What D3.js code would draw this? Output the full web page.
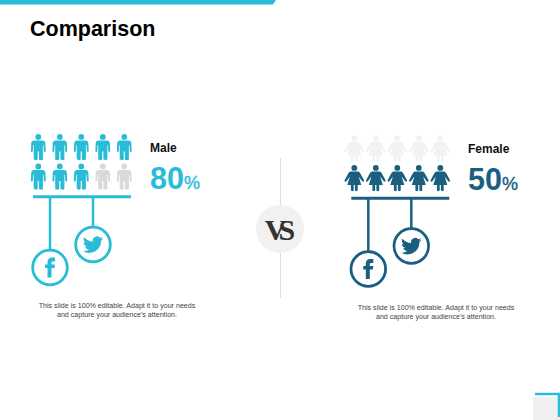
<!DOCTYPE html>
<html>
<head>
<meta charset="utf-8">
<script src="https://cdn.jsdelivr.net/npm/d3@7"></script>
<style>
  html, body { margin: 0; padding: 0; background: #fff; }
  svg { display: block; }
  text { font-family: "Liberation Sans", Arial, sans-serif; }
</style>
</head>
<body>
<div id="chart"></div>
<script>
// chart values
var groups = ["Male", "Female"];
var percents = [80, 50];
var filledIcons = [8, 5];
var columns = [0, 1, 2, 3, 4];
var rows = [0, 1];
var captionLines = ["This slide is 100% editable. Adapt it to your needs", "and capture your audience's attention."];

var width = 560, height = 420;
var blue = "#29bcd9", navy = "#1a5f80";

var svg = d3.select("#chart").append("svg").attr("width", width).attr("height", height);

// glyphs, drawn in a 24 unit box
var head = "M12 0a2.9 2.9 0 1 1 0 5.8a2.9 2.9 0 0 1 0-5.8z";
var manPath = head + "M8 6.5H16C18 6.500 19 7.700 19.100 9.700L19.400 17C19.400 18.400 17.600 18.400 17.500 17L17.200 11.300H16.600V25C16.600 26.600 12.600 26.600 12.600 25V17.500H11.400V25C11.400 26.600 7.400 26.600 7.400 25V11.300H6.800L6.500 17C6.400 18.400 4.600 18.400 4.600 17L4.900 9.700C5 7.700 6 6.500 8 6.500Z";
var womanPath = head + "M8.800 6.500H15.200C16.400 6.500 17.200 7.100 17.800 8.100L21.600 15C22.400 16.500 20.600 17.400 19.700 16.100L16.400 11.600L19 20H15.400V25C15.400 26.600 12.600 26.600 12.600 25V20H11.400V25C11.400 26.600 8.600 26.600 8.600 25V20H5L7.600 11.600L4.300 16.100C3.400 17.400 1.600 16.500 2.400 15L6.200 8.100C6.800 7.100 7.600 6.500 8.800 6.500Z";
var twitterPath = "M23.953 4.57a10 10 0 01-2.825.775 4.958 4.958 0 002.163-2.723c-.951.555-2.005.959-3.127 1.184a4.92 4.92 0 00-8.384 4.482C7.69 8.095 4.067 6.13 1.64 3.162a4.822 4.822 0 00-.666 2.475c0 1.71.87 3.213 2.188 4.096a4.904 4.904 0 01-2.228-.616v.06a4.923 4.923 0 003.946 4.827 4.996 4.996 0 01-2.212.085 4.936 4.936 0 004.604 3.417 9.867 9.867 0 01-6.102 2.105c-.39 0-.779-.023-1.17-.067a13.995 13.995 0 007.557 2.209c9.053 0 13.998-7.496 13.998-13.985 0-.21 0-.42-.015-.63A9.935 9.935 0 0024 4.59z";
var facebookPath = "M14 8h3V4h-3c-2.8 0-4.5 1.9-4.5 4.6V11H7v3.6h2.5V24h4v-9.4h3l.5-3.6h-3.5V8.8c0-.5.3-.8 1-.8z";

// top band + corner decoration
svg.append("path").attr("d", "M0 0H276L273 4.5H0Z").attr("fill", blue);
svg.append("rect").attr("x", 533).attr("y", 397).attr("width", 27).attr("height", 23).attr("fill", "#f0f0f0");
svg.append("path").attr("d", "M535 394H559V417").attr("fill", "none").attr("stroke", blue).attr("stroke-width", 2.5);

svg.append("text").attr("x", 30).attr("y", 36)
    .attr("font-size", 21.5).attr("font-weight", "bold").attr("fill", "#000").text("Comparison");

// centre divider and VS badge
svg.append("line").attr("x1", 280.5).attr("x2", 280.5).attr("y1", 158).attr("y2", 298)
    .attr("stroke", "#dedede").attr("stroke-width", 1);
svg.append("circle").attr("cx", 280).attr("cy", 229).attr("r", 24).attr("fill", "#f1f1f1");
svg.append("text").attr("x", 276).attr("y", 240).attr("text-anchor", "middle")
    .style("font-family", '"Liberation Serif", serif')
    .attr("font-size", 30).attr("font-weight", "bold").attr("fill", "#333")
    .attr("letter-spacing", -8).text("VS");

// one panel per group
var panels = [
    { offsetX: 0, offsetY: 0, iconShift: 0, color: blue, off: "#d9d9d9", glyph: manPath, capX: 117, capY: 308, labelX: 150, labelY: 151.5, pctY: 189 },
    { offsetX: 318.3, offsetY: 1.5, iconShift: -2.3, color: navy, off: "#f2f2f2", glyph: womanPath, capX: 436, capY: 310, labelX: 468, labelY: 152.5, pctY: 189.5 }
];

var xCol = d3.scalePoint().domain(columns).range([38.3, 124.3]);
var yRow = d3.scalePoint().domain(rows).range([134, 163.5]);

groups.forEach(function (name, g) {
    var p = panels[g];
    var root = svg.append("g").attr("transform", "translate(" + p.offsetX + "," + p.offsetY + ")");

    // icon grid: bottom row fills first for Female, top row first for Male
    var cells = [];
    rows.forEach(function (r) {
        columns.forEach(function (c) { cells.push({ r: r, c: c }); });
    });
    var order = g === 0 ? cells : cells.slice(5).concat(cells.slice(0, 5));
    order.forEach(function (cell, i) { cell.on = i < filledIcons[g]; });

    root.selectAll("path.person").data(cells).enter().append("path")
        .attr("class", "person")
        .attr("d", p.glyph)
        .attr("fill", function (d) { return d.on ? p.color : p.off; })
        .attr("transform", function (d) {
            return "translate(" + (xCol(d.c) + p.iconShift - 12) + "," + yRow(d.r) + ")";
        });

    // bar and stems
    root.append("line").attr("x1", 33).attr("x2", 131).attr("y1", 196.8).attr("y2", 196.8)
        .attr("stroke", p.color).attr("stroke-width", 3);
    root.append("line").attr("x1", 50).attr("x2", 50).attr("y1", 197).attr("y2", 250)
        .attr("stroke", p.color).attr("stroke-width", 2.5);
    root.append("line").attr("x1", 93).attr("x2", 93).attr("y1", 197).attr("y2", 227)
        .attr("stroke", p.color).attr("stroke-width", 2.5);

    // facebook badge
    root.append("circle").attr("cx", 50).attr("cy", 267.5).attr("r", 17.3)
        .attr("fill", "#fff").attr("stroke", p.color).attr("stroke-width", 2.8);
    root.append("path").attr("d", facebookPath).attr("fill", p.color)
        .attr("transform", "translate(38,253.5)");

    // twitter badge
    root.append("circle").attr("cx", 93).attr("cy", 244.5).attr("r", 17.3)
        .attr("fill", "#fff").attr("stroke", p.color).attr("stroke-width", 2.8);
    root.append("path").attr("d", twitterPath).attr("fill", p.color)
        .attr("transform", "translate(82.8,234.5) scale(0.85)");

    // labels
    svg.append("text").attr("x", p.labelX).attr("y", p.labelY)
        .attr("font-size", 12).attr("font-weight", "bold").attr("fill", "#111").text(name);
    var pct = svg.append("text").attr("x", p.labelX).attr("y", p.pctY)
        .attr("font-weight", "bold").attr("fill", p.color);
    pct.append("tspan").attr("font-size", 30.5).text(percents[g]);
    pct.append("tspan").attr("font-size", 18).attr("font-weight", "normal")
        .attr("stroke", p.color).attr("stroke-width", 0.4).text("%");

    // caption
    svg.selectAll("text.cap" + g).data(captionLines).enter().append("text")
        .attr("class", "cap" + g)
        .attr("x", p.capX)
        .attr("y", function (d, i) { return p.capY + i * 9; })
        .attr("text-anchor", "middle")
        .attr("font-size", 7.1).attr("fill", "#444")
        .text(function (d) { return d; });
});
</script>
</body>
</html>
